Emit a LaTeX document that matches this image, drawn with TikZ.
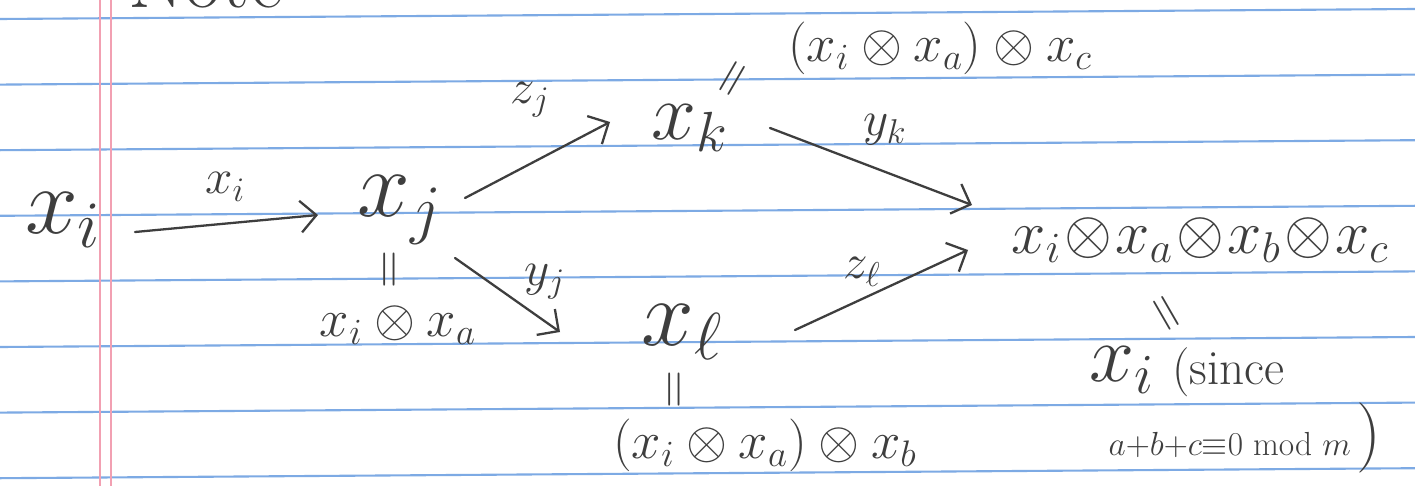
\RequirePackage{fix-cm}
\documentclass[tikz,border=0pt]{standalone}
\usetikzlibrary{arrows.meta,calc}
\definecolor{ink}{RGB}{62,62,62}
\definecolor{ruleblue}{RGB}{125,170,228}
\definecolor{marginred}{RGB}{242,160,178}
\tikzset{
  lbl/.style={text=ink, inner sep=0pt},
  hugex/.style={lbl, font=\fontsize{54}{58}\selectfont},
  bigx/.style={lbl, font=\fontsize{46}{50}\selectfont},
  midx/.style={lbl, font=\fontsize{30}{34}\selectfont},
  resx/.style={lbl, font=\fontsize{35}{38}\selectfont},
  smx/.style={lbl, font=\fontsize{28}{32}\selectfont},
  tinyx/.style={lbl, font=\fontsize{19}{22}\selectfont},
  eqv/.style={lbl, font=\fontsize{30}{34}\selectfont},
  arr/.style={draw=ink, line width=1.3pt, line cap=round, -{Straight Barb[length=9pt,width=18pt]}},
  paperline/.style={draw=ruleblue, line width=1.2pt},
  marginline/.style={draw=marginred, line width=0.9pt},
}
\begin{document}
\begin{tikzpicture}[x=0.02cm,y=-0.02cm]
\useasboundingbox (0,0) rectangle (1415,486);
\clip (0,0) rectangle (1415,486);
\fill[white] (0,0) rectangle (1415,486);
% ruled paper
\foreach \k in {0,...,7}{
  \draw[paperline] (0,{19+65.6*\k}) -- (1415,{9+65.6*\k});
}
\draw[marginline] (100,0) -- (100,486);
\draw[marginline] (111,0) -- (111,486);
% cut-off heading
\node[bigx, anchor=base west] (note) at (128,8) {Note};
% main nodes
\node[hugex] (xi) at (63,220) {$x_i$};
\node[hugex] (xj) at (400,210) {$x_j$};
\node[eqv, rotate=90] (e1) at (393,270) {$=$};
\node[midx] (xja) at (398,325) {$x_i\otimes x_a$};
\node[bigx] (xk) at (690,128) {$x_k$};
\node[eqv, rotate=60] (e2) at (736,80) {$=$};
\node[midx] (xkc) at (940,48) {$(x_i\otimes x_a)\otimes x_c$};
\node[hugex] (xl) at (682,332) {$x_\ell$};
\node[eqv, rotate=90] (e3) at (678,390) {$=$};
\node[midx] (xlb) at (765,445) {$(x_i\otimes x_a)\otimes x_b$};
\node[resx] (res) at (1200,240) {$x_i\!\otimes\! x_a\!\otimes\! x_b\!\otimes\! x_c$};
\node[eqv, rotate=-60] (e4) at (1163,315) {$=$};
\node[bigx] (xi2) at (1122,370) {$x_i$};
\node[smx, anchor=west] (since) at (1172,372) {(since};
\node[tinyx] (cond) at (1245,438) {$a{+}b{+}c{\equiv}0\ \mathrm{mod}\ m$\,{\fontsize{40}{40}\selectfont)}};
% arrow labels
\node[smx] (lxi) at (225,187) {$x_i$};
\node[smx] (lzj) at (530,100) {$z_j$};
\node[smx] (lyk) at (885,130) {$y_k$};
\node[smx] (lyj) at (545,282) {$y_j$};
\node[smx] (lzl) at (862,272) {$z_\ell$};
% arrows
\draw[arr] ($(xi)+(72,12)$) -- ($(xj)+(-82,5)$);
\draw[arr] ($(xj)+(65,-12)$) -- ($(xk)+(-80,-6)$);
\draw[arr] ($(xk)+(80,0)$) -- ($(res)+(-228,-35)$);
\draw[arr] ($(xj)+(55,48)$) -- ($(xl)+(-122,0)$);
\draw[arr] ($(xl)+(113,-2)$) -- ($(res)+(-232,10)$);
\end{tikzpicture}
\end{document}
